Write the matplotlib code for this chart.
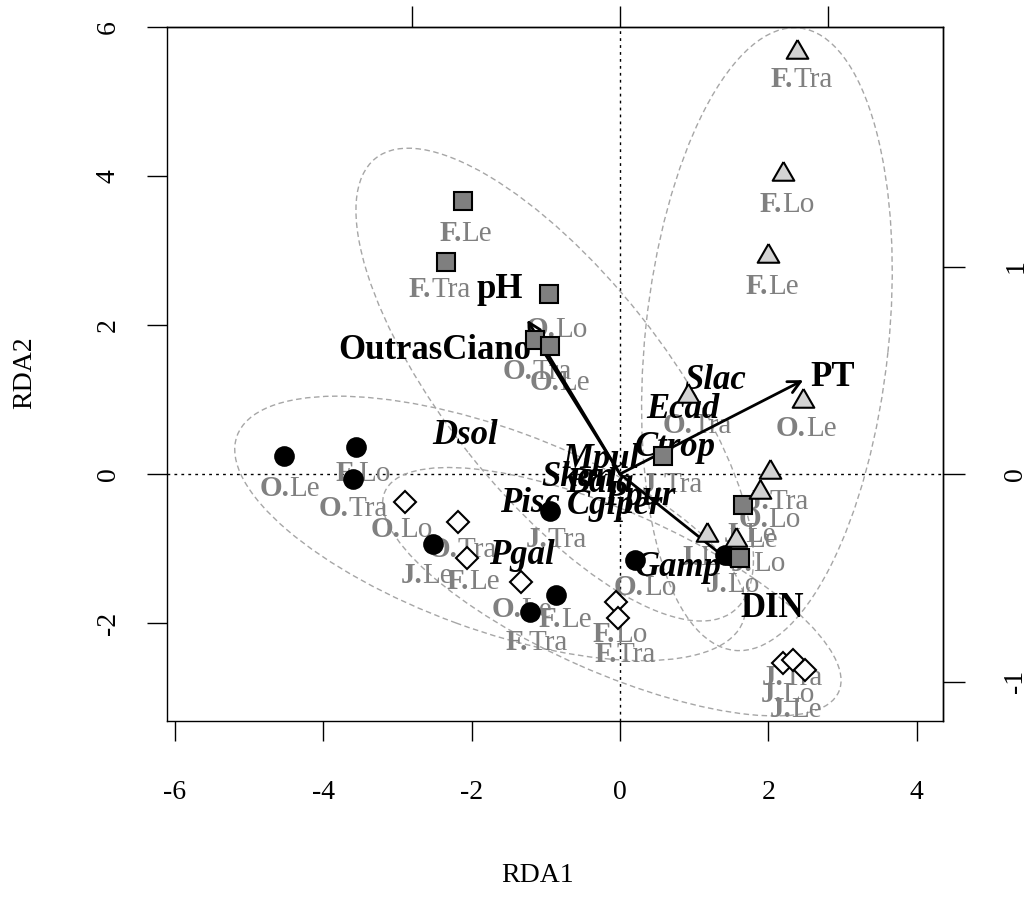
import matplotlib
matplotlib.use("Agg")
import matplotlib.pyplot as plt
from matplotlib.patches import Ellipse
from matplotlib.transforms import offset_copy

plt.rcParams['font.family'] = ['Liberation Serif', 'DejaVu Serif']

# ---------------- data (site scores) ----------------
circ_x = [-4.53, -3.56, -3.60, -2.52, -0.94, -0.86, -1.21, 0.20, 1.42]
circ_y = [0.24, 0.36, -0.07, -0.94, -0.50, -1.62, -1.85, -1.15, -1.09]
circ_lab = ["O.Le", "F.Lo", "O.Tra", "J.Le", "J.Tra", "F.Le", "F.Tra", "O.Lo", "J.Lo"]
circ_lx = [-4.45, -3.46, -3.60, -2.60, -0.86, -0.74, -1.12, 0.34, 1.86]
circ_ly = [-0.17, 0.04, -0.44, -1.33, -0.85, -1.93, -2.23, -1.49, -1.18]

diam_x = [-2.90, -2.18, -2.06, -1.33, -0.05, -0.03, 2.20, 2.33, 2.49]
diam_y = [-0.38, -0.64, -1.13, -1.45, -1.72, -1.93, -2.54, -2.50, -2.63]
diam_lab = ["O.Lo", "O.Tra", "F.Le", "O.Le", "F.Lo", "F.Tra", "J.Lo", "J.Tra", "J.Le"]
diam_lx = [-2.94, -2.12, -1.98, -1.32, 0.00, 0.07, 2.26, 2.32, 2.37]
diam_ly = [-0.72, -0.98, -1.42, -1.79, -2.13, -2.39, -2.93, -2.70, -3.14]

sq_x = [-2.12, -2.35, -0.96, -1.15, -0.94, 0.58, 1.66, 1.62]
sq_y = [3.66, 2.85, 2.42, 1.80, 1.72, 0.24, -0.42, -1.13]
sq_lab = ["F.Le", "F.Tra", "O.Lo", "O.Tra", "O.Le", "J.Tra", "J.Le", "J.Lo"]
sq_lx = [-2.08, -2.43, -0.85, -1.12, -0.81, 0.71, 1.78, 1.52]
sq_ly = [3.25, 2.51, 1.97, 1.40, 1.26, -0.12, -0.85, -1.46]

tri_x = [2.39, 2.20, 1.99, 2.47, 0.92, 2.02, 1.89, 1.17, 1.56]
tri_y = [5.66, 4.03, 2.93, 0.98, 1.05, 0.03, -0.24, -0.82, -0.89]
tri_lab = ["F.Tra", "F.Lo", "F.Le", "O.Le", "O.Tra", "J.Tra", "O.Lo", "J.Lo", "J.Le"]
tri_lx = [2.45, 2.25, 2.05, 2.51, 1.04, 2.13, 2.02, 1.15, 1.75]
tri_ly = [5.32, 3.64, 2.54, 0.64, 0.68, -0.34, -0.58, -1.09, -0.79]

# species scores
sp_names = ["Dsol", "Slac", "Ecad", "Ctrop", "Mpul", "Skan", "Bala", "Ppur",
            "Cgiper", "Pisc", "Pgal", "Gamp"]
sp_x = [-2.09, 1.29, 0.85, 0.75, -0.26, -0.57, -0.27, 0.27, -0.07, -1.21, -1.32, 0.78]
sp_y = [0.52, 1.26, 0.87, 0.35, 0.19, -0.05, -0.13, -0.30, -0.42, -0.40, -1.10, -1.26]

# environmental vectors
env_names = ["pH", "OutrasCiano", "PT", "DIN"]
env_x = [-1.25, -1.21, 2.47, 1.59]
env_y = [2.07, 1.93, 1.26, -1.26]
env_lx = [-1.62, -2.49, 2.86, 2.05]
env_ly = [2.47, 1.66, 1.29, -1.80]

# dispersion ellipses (triangles, squares, circles, diamonds)
ell_cx = [1.98, -0.88, -1.75, -0.11]
ell_cy = [1.81, 1.20, -0.73, -1.58]
ell_a = [4.20, 3.88, 3.63, 3.34]
ell_b = [1.64, 1.48, 1.35, 1.08]
ell_ang = [84, -51.5, -20, -23.7]

# axis ticks
x_ticks = [-6, -4, -2, 0, 2, 4]
y_ticks = [-2, 0, 2, 4, 6]
arrow_ticks = [-1, 0, 1]
arrow_mul_x = 2.797
arrow_mul_y = 2.785

# ---------------- figure ----------------
fig = plt.figure(figsize=(10.34, 8.98), dpi=100)
ax = fig.add_axes([167 / 1034, 1 - 721 / 898, 776 / 1034, 694 / 898])
ax.set_xlim(-6.105, 4.353)
ax.set_ylim(-3.315, 6.0)

for s in ax.spines.values():
    s.set_linewidth(1.0)

ax.axhline(0, color='black', lw=1, ls=(0, (2, 3)), zorder=1)
ax.axvline(0, color='black', lw=1, ls=(0, (2, 3)), zorder=1)

for cx, cy, a, b, ang in zip(ell_cx, ell_cy, ell_a, ell_b, ell_ang):
    e = Ellipse((cx, cy), 2 * a, 2 * b, angle=ang, fill=False,
                edgecolor='#a6a6a6', lw=1.0, ls=(0, (4, 2.5)), zorder=1)
    ax.add_patch(e)

gray = '#808080'
renderer = fig.canvas.get_renderer()


def site_label(x, y, lab):
    pre, post = lab.split('.')
    pre = pre + '.'
    t1 = ax.text(x, y, pre, color=gray, fontsize=21, fontweight='bold',
                 ha='left', va='baseline', zorder=2)
    t2 = ax.text(x, y, post, color=gray, fontsize=21,
                 ha='left', va='baseline', zorder=2)
    w1 = t1.get_window_extent(renderer).width
    w2 = t2.get_window_extent(renderer).width
    total = w1 + w2
    t1.set_transform(offset_copy(ax.transData, fig=fig, x=-total / 2, y=-9.5,
                                 units='dots'))
    t2.set_transform(offset_copy(ax.transData, fig=fig, x=-total / 2 + w1, y=-9.5,
                                 units='dots'))


for lx_, ly_, labs in [(circ_lx, circ_ly, circ_lab), (diam_lx, diam_ly, diam_lab),
                       (sq_lx, sq_ly, sq_lab), (tri_lx, tri_ly, tri_lab)]:
    for x, y, l in zip(lx_, ly_, labs):
        site_label(x, y, l)

for n, x, y in zip(sp_names, sp_x, sp_y):
    ax.text(x, y, n, fontsize=25, fontweight='bold', fontstyle='italic',
            ha='center', va='center', color='black', zorder=3)

for n, x, y, lx, ly in zip(env_names, env_x, env_y, env_lx, env_ly):
    ax.annotate("", xy=(x, y), xytext=(0, 0),
                arrowprops=dict(arrowstyle='->', lw=2, color='black',
                                mutation_scale=22, shrinkA=0, shrinkB=0),
                zorder=4)
    ax.text(lx, ly, n, fontsize=25, fontweight='bold', ha='center',
            va='center', color='black', zorder=4)

tri_marker = [(0, 1.155), (-1, -0.577), (1, -0.577), (0, 1.155)]
ax.plot(circ_x, circ_y, ls='none', marker='o', ms=13.7, mfc='black',
        mec='black', mew=1.2, zorder=5)
ax.plot(diam_x, diam_y, ls='none', marker='D', ms=11, mfc='white',
        mec='black', mew=1.5, zorder=5)
ax.plot(sq_x, sq_y, ls='none', marker='s', ms=13.5, mfc='#7f7f7f',
        mec='black', mew=1.5, zorder=5)
ax.plot(tri_x, tri_y, ls='none', marker=tri_marker, ms=18, mfc='#d3d3d3',
        mec='black', mew=1.5, zorder=5)

# main axes ticks
ax.set_xticks(x_ticks)
ax.set_xticklabels([str(t) for t in x_ticks])
ax.set_yticks(y_ticks)
ax.set_yticklabels([str(t) for t in y_ticks])
ax.tick_params(axis='x', direction='out', length=14.4, width=1, labelsize=20, pad=28)
ax.tick_params(axis='y', direction='out', length=14.4, width=1, labelsize=20, pad=19,
               labelrotation=90)
for lbl in ax.get_yticklabels():
    lbl.set_va('center')

# secondary axes (arrow scale)
sx = ax.secondary_xaxis('top', functions=(lambda v: v / arrow_mul_x,
                                          lambda v: v * arrow_mul_x))
sx.set_xticks(arrow_ticks)
sx.tick_params(direction='out', length=15, width=1, labeltop=False)
sx.spines['top'].set_linewidth(1.0)

sy = ax.secondary_yaxis('right', functions=(lambda v: v / arrow_mul_y,
                                            lambda v: v * arrow_mul_y))
sy.set_yticks(arrow_ticks)
sy.set_yticklabels([str(t) for t in arrow_ticks])
sy.tick_params(direction='out', length=15.5, width=1, labelsize=20, pad=28,
               labelrotation=90)
for lbl in sy.get_yticklabels():
    lbl.set_va('center')
sy.spines['right'].set_linewidth(1.0)

fig.text(538 / 1034, 1 - 876 / 898, "RDA1", fontsize=20, ha='center', va='center')
fig.text(25 / 1034, 1 - 373 / 898, "RDA2", fontsize=20, ha='center', va='center',
         rotation=90)

fig.savefig("out.png", dpi=100)
